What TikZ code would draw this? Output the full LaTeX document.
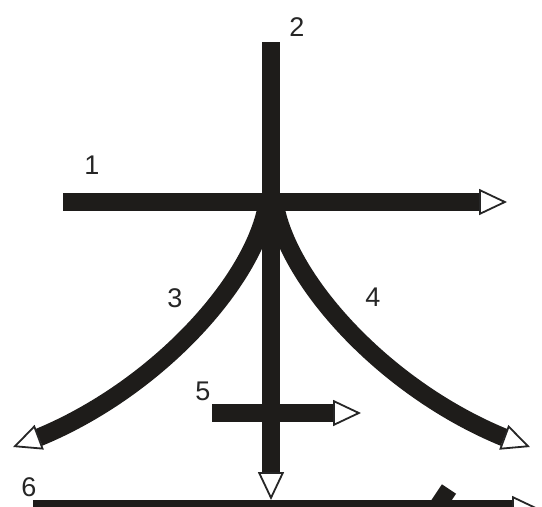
\documentclass[tikz,border=0pt]{standalone}
\usepackage{fontspec}
\setmainfont{Liberation Sans}
\usetikzlibrary{arrows.meta,bending}
\definecolor{ink}{HTML}{1E1C1A}
\tikzset{
  strokeline/.style={draw=ink, line width=18pt, line cap=butt},
  opentip/.style={-{Triangle[open,length=28pt,width=26pt,line width=1.8pt,color=black!85]}},
  numlabel/.style={font=\fontsize{27}{27}\selectfont, text=black!85, inner sep=0pt}
}
\begin{document}
\begin{tikzpicture}[x=1pt,y=-1pt]
\useasboundingbox (0,0) rectangle (542,507);
\clip (0,0) rectangle (542,507);
\fill[white] (0,0) rectangle (542,507);
% stroke 1
\coordinate (s1a) at (63,202);
\coordinate (s1b) at (507,202);
\draw[strokeline,opentip] (s1a) -- (s1b);
% stroke 2
\coordinate (s2a) at (271,42);
\coordinate (s2b) at (271,500);
\draw[strokeline,opentip] (s2a) -- (s2b);
% stroke 3
\coordinate (s3a) at (266,210);
\coordinate (s3b) at (13,447);
\draw[strokeline,opentip] (s3a) .. controls (248,292) and (140,405) .. (s3b);
% stroke 4
\coordinate (s4a) at (276,210);
\coordinate (s4b) at (530,447);
\draw[strokeline,opentip] (s4a) .. controls (294,292) and (402,405) .. (s4b);
% stroke 5
\coordinate (s5a) at (212,413);
\coordinate (s5b) at (361,413);
\draw[strokeline,opentip] (s5a) -- (s5b);
% stroke 6 (cut by the border)
\coordinate (s6a) at (33,509);
\coordinate (s6b) at (540,509);
\draw[strokeline,opentip] (s6a) -- (s6b);
\coordinate (s7a) at (449,489);
\coordinate (s7b) at (423,528);
\draw[strokeline,line width=17pt] (s7a) -- (s7b);
% labels
\node[numlabel] (n1) at (92,165) {1};
\node[numlabel] (n2) at (297,27) {2};
\node[numlabel] (n3) at (175,298) {3};
\node[numlabel] (n4) at (373,297) {4};
\node[numlabel] (n5) at (203,391) {5};
\node[numlabel] (n6) at (29,487) {6};
\end{tikzpicture}
\end{document}
